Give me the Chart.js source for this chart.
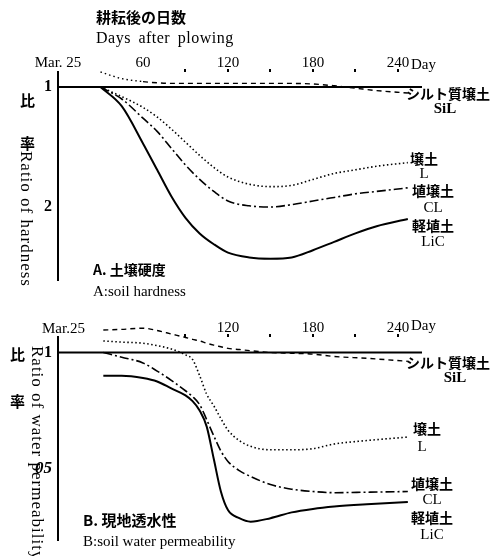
<!DOCTYPE html>
<html>
<head>
<meta charset="utf-8">
<script src="https://cdn.jsdelivr.net/npm/chart.js@4"></script>
<style>
  body { margin: 0; background: #fff; }
  #page { position: relative; width: 498px; height: 556px; overflow: hidden; background: #fff; }
  canvas { position: absolute; left: 0; }
  .t { position: absolute; white-space: nowrap; color: #000; line-height: 1; }
  .jp { font-family: "Noto Sans CJK JP", sans-serif; font-weight: 700; }
  .en { font-family: "Liberation Serif", "DejaVu Serif", serif; }
  .c { text-align: center; }
  .v { writing-mode: vertical-rl; letter-spacing: 1px; }
</style>
</head>
<body>
<div id="page">
  <canvas id="chartA" width="498" height="300" style="top:0"></canvas>
  <canvas id="chartB" width="498" height="256" style="top:300px"></canvas>

  <div class="t jp" style="left:96px;top:9px;font-size:15px;">耕耘後の日数</div>
  <div class="t en" style="left:96px;top:30px;font-size:16px;letter-spacing:0.5px;word-spacing:3px;">Days after plowing</div>
  <div class="t en" style="left:411px;top:57px;font-size:15px;">Day</div>

  <div class="t jp" style="left:20px;top:92px;font-size:15px;">比</div>
  <div class="t jp" style="left:20px;top:135px;font-size:15px;">率</div>
  <div class="t en v" style="left:18px;top:151px;font-size:17px;">Ratio of hardness</div>

  <div class="t jp" style="left:406px;top:86px;font-size:14px;">シルト質壌土</div>
  <div class="t en c" style="left:420px;top:101px;width:50px;font-size:15px;font-weight:bold;">SiL</div>
  <div class="t jp c" style="left:402px;top:151px;width:44px;font-size:14px;">壌土</div>
  <div class="t en c" style="left:402px;top:166px;width:44px;font-size:15px;">L</div>
  <div class="t jp c" style="left:408px;top:183px;width:50px;font-size:14px;">埴壌土</div>
  <div class="t en c" style="left:408px;top:200px;width:50px;font-size:15px;">CL</div>
  <div class="t jp c" style="left:408px;top:218px;width:50px;font-size:14px;">軽埴土</div>
  <div class="t en c" style="left:408px;top:234px;width:50px;font-size:15px;">LiC</div>

  <div class="t jp" style="left:93px;top:262px;font-size:14px;">A. 土壌硬度</div>
  <div class="t en" style="left:93px;top:284px;font-size:15px;">A:soil hardness</div>

  <div class="t en" style="left:42px;top:321px;font-size:15px;">Mar.25</div>
  <div class="t en" style="left:411px;top:318px;font-size:15px;">Day</div>

  <div class="t jp" style="left:10px;top:346px;font-size:15px;">比</div>
  <div class="t jp" style="left:10px;top:393px;font-size:15px;">率</div>
  <div class="t en v" style="left:29px;top:346px;font-size:17px;">Ratio of water permeability</div>

  <div class="t jp" style="left:406px;top:355px;font-size:14px;">シルト質壌土</div>
  <div class="t en c" style="left:430px;top:370px;width:50px;font-size:15px;font-weight:bold;">SiL</div>
  <div class="t jp c" style="left:405px;top:421px;width:44px;font-size:14px;">壌土</div>
  <div class="t en c" style="left:400px;top:439px;width:44px;font-size:15px;">L</div>
  <div class="t jp c" style="left:407px;top:476px;width:50px;font-size:14px;">埴壌土</div>
  <div class="t en c" style="left:407px;top:492px;width:50px;font-size:15px;">CL</div>
  <div class="t jp c" style="left:407px;top:510px;width:50px;font-size:14px;">軽埴土</div>
  <div class="t en c" style="left:407px;top:527px;width:50px;font-size:15px;">LiC</div>

  <div class="t jp" style="left:83px;top:512px;font-size:15px;">B. 現地透水性</div>
  <div class="t en" style="left:83px;top:534px;font-size:15px;">B:soil water permeability</div>
</div>
<script>
// days after plowing (Mar. 25 = 0)
const tickDays = [0, 30, 60, 90, 120, 150, 180, 210, 240];
const tickTextA = ["Mar. 25", "", "60", "", "120", "", "180", "", "240"];
const tickTextB = ["", "", "", "", "120", "", "180", "", "240"];
const baseDays = [0, 257];
const baseRatio = [1, 1];

// A: soil hardness ratio
const daysA = [30, 45, 60, 70, 80, 90, 100, 110, 120, 135, 150, 165, 180, 195, 210, 225, 247];
const hardSiL = [0.875, 0.93, 0.955, 0.965, 0.97, 0.97, 0.97, 0.97, 0.97, 0.97, 0.97, 0.97, 0.975, 0.99, 1.01, 1.03, 1.05];
const hardL = [1.0, 1.08, 1.17, 1.25, 1.35, 1.46, 1.57, 1.67, 1.75, 1.81, 1.83, 1.82, 1.77, 1.72, 1.69, 1.66, 1.63];
const hardCL = [1.0, 1.1, 1.26, 1.37, 1.51, 1.65, 1.77, 1.87, 1.95, 1.99, 2.0, 1.98, 1.95, 1.92, 1.89, 1.87, 1.84];
const hardLiC = [1.0, 1.16, 1.47, 1.69, 1.91, 2.09, 2.22, 2.31, 2.38, 2.42, 2.43, 2.42, 2.36, 2.29, 2.22, 2.16, 2.1];

// B: soil water permeability ratio
const daysB = [32, 45, 60, 70, 80, 90, 95, 100, 105, 110, 115, 120, 128, 136, 150, 165, 180, 195, 218, 247];
const permSiL = [1.097, 1.1, 1.105, 1.095, 1.08, 1.065, 1.057, 1.05, 1.04, 1.032, 1.025, 1.018, 1.013, 1.008, 1.0, 0.997, 0.993, 0.983, 0.975, 0.962];
const permL = [1.05, 1.045, 1.04, 1.03, 1.015, 0.99, 0.97, 0.9, 0.82, 0.77, 0.715, 0.665, 0.62, 0.595, 0.58, 0.58, 0.585, 0.605, 0.62, 0.635];
const permCL = [1.0, 0.98, 0.955, 0.92, 0.88, 0.835, 0.81, 0.775, 0.71, 0.64, 0.575, 0.53, 0.49, 0.465, 0.43, 0.41, 0.4, 0.395, 0.397, 0.4];
const permLiC = [0.9, 0.9, 0.89, 0.875, 0.845, 0.815, 0.79, 0.75, 0.68, 0.54, 0.4, 0.32, 0.285, 0.27, 0.285, 0.31, 0.325, 0.335, 0.345, 0.355];

Chart.defaults.font.family = "'Liberation Serif', 'DejaVu Serif', serif";
Chart.defaults.color = "#000";

function pts(xs, ys) {
    return xs.map((x, i) => ({ x: x, y: ys[i] }));
}

function line(data, dash, width, extra) {
    return Object.assign({
        data: data,
        borderColor: "#000",
        borderWidth: width,
        borderDash: dash,
        pointRadius: 0,
        cubicInterpolationMode: "monotone",
        fill: false,
        clip: false
    }, extra || {});
}

function makeChart(id, cfg) {
    const ctx = document.getElementById(id).getContext("2d");
    return new Chart(ctx, {
        type: "line",
        data: {
            datasets: [
                line(pts(baseDays, baseRatio), [], 1.8, { cubicInterpolationMode: "default" }),
                line(pts(cfg.days, cfg.sil), [5, 4], 1.4, {
                    segment: { borderDash: s => (cfg.dotStart && s.p0DataIndex < 2) ? [1.5, 3] : [5, 4] }
                }),
                line(pts(cfg.days, cfg.l), [1.5, 2.5], 1.6),
                line(pts(cfg.days, cfg.cl), [9, 3, 2, 3], 1.6),
                line(pts(cfg.days, cfg.lic), [], 2)
            ]
        },
        options: {
            responsive: false,
            animation: false,
            layout: { padding: { left: 0, right: 76, top: 0, bottom: cfg.padBottom } },
            plugins: { legend: { display: false }, tooltip: { enabled: false } },
            scales: {
                x: {
                    type: "linear",
                    position: "top",
                    min: 0,
                    max: 257,
                    afterFit: s => { s.height = cfg.topHeight; },
                    afterBuildTicks: s => { s.ticks = tickDays.map(v => ({ value: v })); },
                    border: { display: false },
                    grid: {
                        drawOnChartArea: false,
                        drawTicks: true,
                        tickLength: 3,
                        color: "#000",
                        lineWidth: c => (c.tick && c.tick.value >= 90) ? 2 : 0
                    },
                    ticks: {
                        autoSkip: false,
                        maxRotation: 0,
                        padding: -3,
                        font: { size: 15 },
                        callback: (v, i) => cfg.tickText[i]
                    }
                },
                y: {
                    type: "linear",
                    reverse: cfg.reverse,
                    min: cfg.ymin,
                    max: cfg.ymax,
                    afterFit: s => { s.width = 58; },
                    afterBuildTicks: s => { s.ticks = cfg.yTicks.map(v => ({ value: v })); },
                    border: { display: true, color: "#000", width: 2 },
                    grid: { display: false, drawTicks: false },
                    ticks: {
                        padding: 6,
                        font: c => (c.tick && c.tick.value === 0.5)
                            ? { size: 17, style: "italic", weight: "bold" }
                            : { size: 16, weight: "bold" },
                        callback: (v, i) => cfg.yText[i]
                    }
                }
            }
        }
    });
}

makeChart("chartA", {
    days: daysA, sil: hardSiL, l: hardL, cl: hardCL, lic: hardLiC,
    dotStart: true,
    tickText: tickTextA,
    topHeight: 72, padBottom: 20,
    reverse: true, ymin: 0.875, ymax: 2.608,
    yTicks: [1, 2], yText: ["1", "2"]
});

makeChart("chartB", {
    days: daysB, sil: permSiL, l: permL, cl: permCL, lic: permLiC,
    dotStart: false,
    tickText: tickTextB,
    topHeight: 37, padBottom: 10,
    reverse: false, ymin: 0.189, ymax: 1.067,
    yTicks: [1, 0.5], yText: ["1", "05"]
});
</script>
</body>
</html>
